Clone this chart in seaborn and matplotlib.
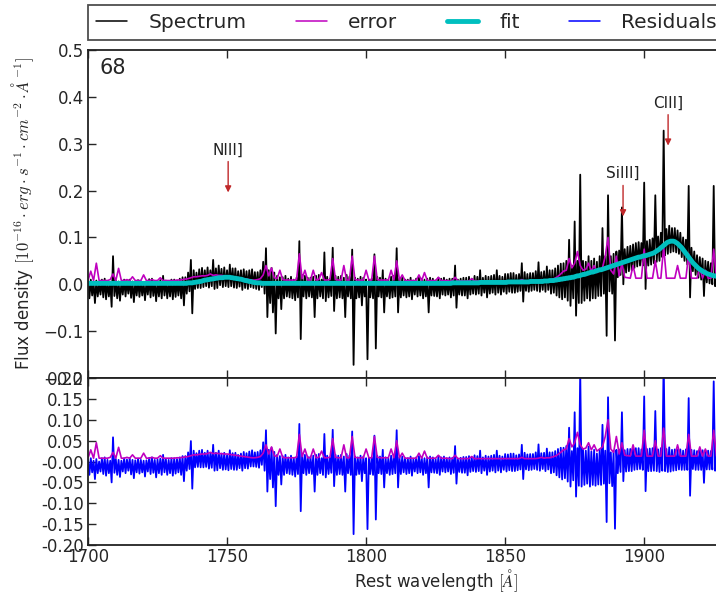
import numpy as np
import pandas as pd
import matplotlib
matplotlib.use('Agg')
from matplotlib import pyplot as plt
from matplotlib.lines import Line2D
import seaborn as sns

# spectrum and fit sampled every 0.5 A, error every 1 A
wave = np.arange(1700, 1930.5, 0.5)
err_wave = np.arange(1700, 1931)

spectrum = [
    0.006, -0.030, 0.010, -0.024, 0.004, -0.040, 0.008, -0.026, 0.002, -0.022,
    0.010, -0.028, 0.012, -0.032, 0.006, -0.026, 0.004, -0.048, 0.060, -0.025,
    0.008, -0.030, 0.006, -0.035, 0.004, -0.022, 0.010, -0.026, 0.007, -0.020,
    0.010, -0.029, 0.006, -0.038, 0.005, -0.024, 0.009, -0.027, 0.006, -0.024,
    0.004, -0.034, 0.005, -0.022, 0.011, -0.028, 0.012, -0.025, 0.006, -0.036,
    0.007, -0.026, 0.009, -0.030, 0.018, -0.024, 0.008, -0.030, 0.006, -0.026,
    0.010, -0.032, 0.010, -0.027, 0.008, -0.024, 0.012, -0.030, 0.015, -0.045,
    0.015, -0.020, 0.025, -0.015, 0.052, -0.062, 0.030, -0.010, 0.025, -0.008,
    0.032, -0.008, 0.035, -0.006, 0.030, -0.004, 0.036, -0.007, 0.030, -0.004,
    0.052, -0.010, 0.034, -0.008, 0.040, -0.002, 0.033, -0.006, 0.036, -0.004,
    0.030, -0.006, 0.042, -0.004, 0.034, -0.007, 0.034, -0.008, 0.028, -0.005,
    0.030, -0.012, 0.032, -0.008, 0.028, -0.010, 0.030, -0.006, 0.032, -0.008,
    0.026, -0.010, 0.026, -0.012, 0.030, -0.006, 0.048, -0.020, 0.077, -0.070,
    0.030, -0.040, 0.035, -0.060, 0.025, -0.105, 0.018, -0.030, 0.015, -0.053,
    0.015, -0.030, 0.018, -0.026, 0.012, -0.028, 0.016, -0.030, 0.010, -0.034,
    0.014, -0.028, 0.092, -0.117, 0.020, -0.026, 0.018, -0.030, 0.014, -0.026,
    0.014, -0.028, 0.016, -0.070, 0.018, -0.030, 0.020, -0.026, 0.010, -0.030,
    0.068, -0.036, 0.016, -0.028, 0.012, -0.025, 0.078, -0.057, 0.018, -0.030,
    0.016, -0.028, 0.018, -0.030, 0.014, -0.070, 0.020, -0.026, 0.016, -0.030,
    0.074, -0.172, 0.014, -0.030, 0.012, -0.028, 0.016, -0.045, 0.014, -0.026,
    0.010, -0.160, 0.010, -0.028, 0.012, -0.030, 0.064, -0.137, 0.016, -0.026,
    0.014, -0.028, 0.030, -0.060, 0.012, -0.026, 0.010, -0.030, 0.016, -0.028,
    0.018, -0.026, 0.077, -0.060, 0.012, -0.028, 0.014, -0.024, 0.010, -0.028,
    0.010, -0.026, 0.014, -0.032, 0.008, -0.022, 0.012, -0.026, 0.015, -0.024,
    0.012, -0.030, 0.010, -0.026, 0.012, -0.060, 0.014, -0.024, 0.012, -0.025,
    0.008, -0.026, 0.014, -0.030, 0.012, -0.022, 0.014, -0.024, 0.010, -0.022,
    0.012, -0.028, 0.012, -0.024, 0.040, -0.050, 0.010, -0.022, 0.012, -0.024,
    0.014, -0.024, 0.014, -0.030, 0.016, -0.022, 0.012, -0.020, 0.018, -0.022,
    0.016, -0.020, 0.030, -0.024, 0.014, -0.018, 0.018, -0.028, 0.016, -0.020,
    0.018, -0.018, 0.020, -0.022, 0.030, -0.018, 0.018, -0.022, 0.016, -0.016,
    0.022, -0.020, 0.022, -0.016, 0.024, -0.018, 0.024, -0.018, 0.020, -0.016,
    0.022, -0.014, 0.045, -0.037, 0.026, -0.014, 0.022, -0.016, 0.024, -0.014,
    0.024, -0.012, 0.028, -0.014, 0.047, -0.016, 0.026, -0.012, 0.028, -0.016,
    0.038, -0.012, 0.030, -0.020, 0.030, -0.018, 0.034, -0.024, 0.040, -0.028,
    0.044, -0.032, 0.045, -0.028, 0.050, -0.035, 0.095, -0.046, 0.040, -0.030,
    0.134, -0.067, 0.050, -0.040, 0.234, -0.040, 0.050, -0.035, 0.048, -0.030,
    0.060, -0.035, 0.050, -0.030, 0.055, -0.030, 0.048, -0.025, 0.060, -0.025,
    0.120, -0.020, 0.060, -0.110, 0.190, -0.015, 0.060, -0.020, 0.065, -0.120,
    0.070, 0.015, 0.072, 0.020, 0.164, 0.000, 0.075, 0.025, 0.080, 0.028,
    0.082, 0.030, 0.085, 0.035, 0.088, 0.038, 0.090, 0.040, 0.088, 0.040,
    0.217, -0.010, 0.092, 0.040, 0.095, 0.042, 0.098, 0.045, 0.190, 0.048,
    0.102, 0.050, 0.110, 0.058, 0.328, 0.062, 0.118, 0.065, 0.125, 0.068,
    0.120, 0.070, 0.120, 0.068, 0.115, 0.065, 0.110, 0.058, 0.100, 0.050,
    0.095, 0.042, 0.210, -0.028, 0.078, 0.028, 0.070, 0.020, 0.062, 0.014,
    0.058, 0.010, 0.055, -0.025, 0.050, 0.004, 0.048, 0.002, 0.045, 0.000,
    0.210, -0.004, 0.042, 0.000, 0.040, -0.002, 0.042, 0.000, 0.038, -0.004,
    0.035,
]

fit = [
    0.002, 0.002, 0.002, 0.002, 0.002, 0.002, 0.002, 0.002, 0.002, 0.002,
    0.002, 0.002, 0.002, 0.002, 0.002, 0.002, 0.002, 0.002, 0.002, 0.002,
    0.002, 0.002, 0.002, 0.002, 0.002, 0.002, 0.002, 0.002, 0.002, 0.002,
    0.002, 0.002, 0.002, 0.002, 0.002, 0.002, 0.002, 0.002, 0.002, 0.002,
    0.002, 0.002, 0.002, 0.002, 0.002, 0.002, 0.002, 0.002, 0.002, 0.002,
    0.002, 0.002, 0.002, 0.002, 0.002, 0.002, 0.002, 0.002, 0.002, 0.002,
    0.002, 0.002, 0.002, 0.002, 0.002, 0.002, 0.002, 0.002, 0.002, 0.002,
    0.002, 0.002, 0.003, 0.003, 0.003, 0.003, 0.004, 0.004, 0.005, 0.005,
    0.006, 0.006, 0.007, 0.008, 0.009, 0.009, 0.010, 0.010, 0.011, 0.011,
    0.012, 0.012, 0.013, 0.013, 0.014, 0.014, 0.014, 0.014, 0.015, 0.015,
    0.015, 0.015, 0.015, 0.014, 0.014, 0.013, 0.013, 0.012, 0.012, 0.011,
    0.011, 0.010, 0.009, 0.008, 0.008, 0.007, 0.006, 0.006, 0.005, 0.004,
    0.004, 0.003, 0.003, 0.003, 0.003, 0.002, 0.002, 0.002, 0.002, 0.002,
    0.002, 0.002, 0.002, 0.002, 0.002, 0.002, 0.002, 0.002, 0.002, 0.002,
    0.002, 0.002, 0.002, 0.002, 0.002, 0.002, 0.002, 0.002, 0.002, 0.002,
    0.002, 0.002, 0.002, 0.002, 0.002, 0.002, 0.002, 0.002, 0.002, 0.002,
    0.002, 0.002, 0.002, 0.002, 0.002, 0.002, 0.002, 0.002, 0.002, 0.002,
    0.002, 0.002, 0.002, 0.002, 0.002, 0.002, 0.002, 0.002, 0.002, 0.002,
    0.002, 0.002, 0.002, 0.002, 0.002, 0.002, 0.002, 0.002, 0.002, 0.002,
    0.002, 0.002, 0.002, 0.002, 0.002, 0.002, 0.002, 0.002, 0.002, 0.002,
    0.002, 0.002, 0.002, 0.002, 0.002, 0.002, 0.002, 0.002, 0.002, 0.002,
    0.002, 0.002, 0.002, 0.002, 0.002, 0.002, 0.002, 0.002, 0.002, 0.002,
    0.002, 0.002, 0.002, 0.002, 0.002, 0.002, 0.002, 0.002, 0.002, 0.002,
    0.002, 0.002, 0.002, 0.002, 0.002, 0.002, 0.002, 0.002, 0.002, 0.002,
    0.002, 0.002, 0.002, 0.002, 0.002, 0.002, 0.002, 0.002, 0.002, 0.002,
    0.002, 0.002, 0.002, 0.002, 0.002, 0.002, 0.002, 0.002, 0.002, 0.002,
    0.002, 0.002, 0.003, 0.003, 0.003, 0.003, 0.003, 0.003, 0.003, 0.003,
    0.003, 0.003, 0.003, 0.003, 0.003, 0.003, 0.003, 0.003, 0.003, 0.003,
    0.003, 0.003, 0.004, 0.004, 0.004, 0.004, 0.004, 0.004, 0.004, 0.004,
    0.004, 0.004, 0.004, 0.004, 0.004, 0.004, 0.004, 0.004, 0.004, 0.004,
    0.004, 0.004, 0.005, 0.005, 0.005, 0.005, 0.005, 0.005, 0.005, 0.005,
    0.005, 0.005, 0.005, 0.005, 0.005, 0.005, 0.005, 0.005, 0.006, 0.006,
    0.006, 0.006, 0.006, 0.006, 0.006, 0.006, 0.006, 0.006, 0.007, 0.007,
    0.007, 0.007, 0.008, 0.008, 0.008, 0.008, 0.009, 0.009, 0.010, 0.010,
    0.011, 0.011, 0.012, 0.012, 0.013, 0.013, 0.014, 0.014, 0.015, 0.015,
    0.016, 0.017, 0.018, 0.018, 0.019, 0.020, 0.021, 0.021, 0.022, 0.023,
    0.024, 0.025, 0.026, 0.026, 0.027, 0.028, 0.029, 0.030, 0.031, 0.031,
    0.032, 0.033, 0.034, 0.035, 0.036, 0.037, 0.038, 0.039, 0.040, 0.041,
    0.042, 0.043, 0.044, 0.045, 0.046, 0.047, 0.048, 0.049, 0.050, 0.051,
    0.052, 0.053, 0.054, 0.055, 0.056, 0.057, 0.058, 0.058, 0.059, 0.060,
    0.061, 0.061, 0.062, 0.063, 0.064, 0.065, 0.066, 0.067, 0.069, 0.071,
    0.073, 0.075, 0.078, 0.080, 0.083, 0.085, 0.088, 0.090, 0.091, 0.092,
    0.092, 0.092, 0.091, 0.089, 0.087, 0.084, 0.081, 0.078, 0.074, 0.070,
    0.066, 0.062, 0.058, 0.054, 0.050, 0.046, 0.043, 0.040, 0.037, 0.034,
    0.032, 0.030, 0.028, 0.026, 0.025, 0.023, 0.022, 0.021, 0.020, 0.019,
    0.018, 0.018, 0.017, 0.017, 0.016, 0.016, 0.015, 0.015, 0.014, 0.014,
    0.013,
]

error = [
    0.008, 0.028, 0.008, 0.045, 0.008, 0.008, 0.008, 0.008, 0.010, 0.022,
    0.008, 0.034, 0.008, 0.008, 0.010, 0.008, 0.016, 0.008, 0.008, 0.008,
    0.020, 0.008, 0.008, 0.010, 0.008, 0.008, 0.014, 0.008, 0.008, 0.008,
    0.008, 0.008, 0.009, 0.009, 0.010, 0.011, 0.012, 0.014, 0.016, 0.016,
    0.017, 0.018, 0.018, 0.019, 0.022, 0.019, 0.020, 0.019, 0.019, 0.018,
    0.018, 0.017, 0.016, 0.015, 0.014, 0.013, 0.012, 0.011, 0.010, 0.009,
    0.009, 0.010, 0.012, 0.020, 0.040, 0.018, 0.035, 0.014, 0.012, 0.030,
    0.010, 0.009, 0.009, 0.009, 0.009, 0.010, 0.065, 0.012, 0.030, 0.009,
    0.009, 0.030, 0.009, 0.010, 0.025, 0.009, 0.009, 0.010, 0.055, 0.010,
    0.009, 0.009, 0.040, 0.009, 0.009, 0.060, 0.010, 0.009, 0.009, 0.009,
    0.030, 0.009, 0.009, 0.060, 0.010, 0.009, 0.009, 0.009, 0.009, 0.030,
    0.009, 0.050, 0.009, 0.020, 0.008, 0.008, 0.008, 0.008, 0.008, 0.020,
    0.008, 0.025, 0.008, 0.008, 0.008, 0.008, 0.015, 0.008, 0.008, 0.008,
    0.007, 0.007, 0.015, 0.007, 0.007, 0.007, 0.007, 0.007, 0.012, 0.007,
    0.007, 0.007, 0.007, 0.007, 0.007, 0.007, 0.007, 0.007, 0.007, 0.007,
    0.007, 0.007, 0.007, 0.007, 0.007, 0.007, 0.010, 0.007, 0.007, 0.007,
    0.007, 0.007, 0.008, 0.010, 0.008, 0.009, 0.009, 0.011, 0.013, 0.017,
    0.022, 0.028, 0.030, 0.055, 0.035, 0.045, 0.070, 0.040, 0.030, 0.032,
    0.045, 0.028, 0.040, 0.025, 0.030, 0.035, 0.060, 0.100, 0.030, 0.022,
    0.060, 0.018, 0.045, 0.015, 0.014, 0.013, 0.040, 0.013, 0.013, 0.013,
    0.075, 0.013, 0.013, 0.013, 0.050, 0.013, 0.013, 0.080, 0.013, 0.013,
    0.013, 0.013, 0.040, 0.013, 0.013, 0.013, 0.065, 0.013, 0.013, 0.013,
    0.035, 0.013, 0.030, 0.013, 0.013, 0.075, 0.013, 0.013, 0.013, 0.013,
    0.013,
]

line_names = ['NIII]', 'SiIII]', 'CIII]']
line_wave = [1750.4, 1892.4, 1908.6]
line_flux = [0.196, 0.145, 0.296]

df = pd.DataFrame({'wave': wave, 'flux': spectrum, 'fit': fit})
df['resid'] = df['flux'] - df['fit']
df_err = pd.DataFrame({'wave': err_wave, 'err': error})

sns.set_style('ticks', {'xtick.direction': 'in', 'ytick.direction': 'in',
                        'axes.edgecolor': '#222222'})
plt.rcParams['font.family'] = ['DejaVu Sans']
plt.rcParams['mathtext.fontset'] = 'cm'
plt.rcParams['xtick.labelsize'] = 12
plt.rcParams['ytick.labelsize'] = 12

fig = plt.figure(figsize=(7.16, 5.92), dpi=100)
ax1 = fig.add_axes([0.1229, 0.3615, 0.971, 0.554])
ax2 = fig.add_axes([0.1229, 0.0794, 0.971, 0.282])

kw = dict(estimator=None, sort=False, legend=False)
sns.lineplot(data=df, x='wave', y='flux', ax=ax1, color='black', lw=1.3, **kw)
sns.lineplot(data=df_err, x='wave', y='err', ax=ax1, color='m', lw=1.2, **kw)
sns.lineplot(data=df, x='wave', y='fit', ax=ax1, color='c', lw=3.5, **kw)
sns.lineplot(data=df, x='wave', y='resid', ax=ax2, color='b', lw=1.3, **kw)
sns.lineplot(data=df_err, x='wave', y='err', ax=ax2, color='m', lw=1.2, **kw)

for ax in (ax1, ax2):
    ax.set_xlim(1700, 1950)
    ax.set_xticks([1700, 1750, 1800, 1850, 1900, 1950])
    ax.tick_params(direction='in', length=6, width=1, top=True, right=True, pad=3)
    for sp in ax.spines.values():
        sp.set_linewidth(1.3)

ax1.set_ylim(-0.2, 0.5)
ax1.set_yticks(np.arange(-0.2, 0.51, 0.1))
ax1.set_xticklabels([])
ax1.set_xlabel('')
ax1.set_ylabel(r'Flux density $[10^{-16}\cdot erg\cdot s^{-1}\cdot cm^{-2}\cdot \AA^{-1}]$',
               fontsize=12)
ax1.yaxis.set_label_coords(-0.075, 0.5)

ax2.set_ylim(-0.2, 0.2)
ax2.set_yticks(np.arange(-0.2, 0.21, 0.05))
ax2.yaxis.set_major_formatter(matplotlib.ticker.FormatStrFormatter('%.2f'))
ax2.tick_params(axis='x', pad=2)
ax2.set_ylabel('')
ax2.set_xlabel(r'Rest wavelength $[\AA]$', fontsize=12, labelpad=1)

ax1.text(0.017, 0.975, '68', transform=ax1.transAxes, va='top', ha='left', fontsize=15)

for name, lw_, lf in zip(line_names, line_wave, line_flux):
    ax1.annotate('', xy=(lw_, lf), xytext=(lw_, lf + 0.066),
                 arrowprops=dict(arrowstyle='-|>', color='#c0282a', lw=1,
                                 mutation_scale=9, shrinkA=0, shrinkB=0))
    ax1.text(lw_, lf + 0.075, name, ha='center', va='bottom', fontsize=11, color='#222222')

handles = [Line2D([], [], color='black', lw=1.1),
           Line2D([], [], color='m', lw=1.1),
           Line2D([], [], color='c', lw=3.5),
           Line2D([], [], color='b', lw=1.1)]
leg = fig.legend(handles, ['Spectrum', 'error', 'fit', 'Residuals'], ncol=4,
                 loc='upper left', bbox_to_anchor=(0.1229, 1 - 5 / 592),
                 borderaxespad=0, fontsize=14.5, frameon=True, fancybox=False,
                 edgecolor='#222222', handlelength=1.55, handletextpad=1.05,
                 columnspacing=2.45)
leg.get_frame().set_linewidth(1.3)

fig.savefig('out.png', dpi=100)
